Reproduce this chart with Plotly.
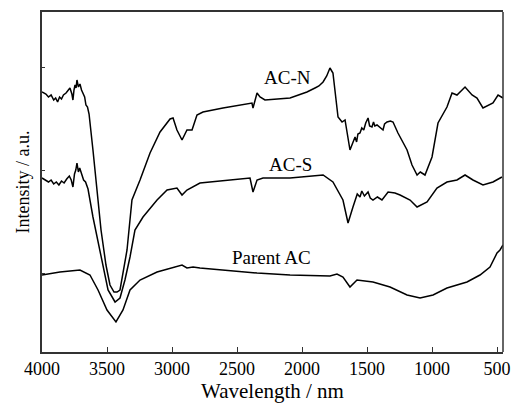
import plotly.graph_objects as go

# AC-N spectrum
acn_wn = [4000, 3970, 3950, 3930, 3910, 3895, 3880, 3865, 3850, 3835, 3815, 3800, 3785, 3770,
          3762, 3754, 3746, 3738, 3731, 3720, 3708, 3696, 3685, 3672, 3662, 3650, 3638, 3623,
          3608, 3577, 3546, 3508, 3477, 3446, 3423, 3400, 3346, 3308, 3246, 3169, 3092, 3015,
          2992, 2962, 2923, 2885, 2846, 2808, 2762, 2608, 2385, 2377, 2346, 2323, 2285, 2092,
          1962, 1900, 1870, 1838, 1810, 1785, 1762, 1723, 1692, 1669, 1631, 1592, 1580, 1570,
          1554, 1540, 1525, 1510, 1492, 1480, 1462, 1450, 1440, 1423, 1400, 1377, 1365, 1346,
          1320, 1300, 1262, 1192, 1154, 1130, 1115, 1090, 1054, 1000, 954, 885, 846, 808, 746,
          692, 654, 608, 531, 492, 454]
acn_int = [260, 258, 255, 257, 252, 254, 250, 255, 253, 257, 259, 262, 264, 258,
           252, 262, 267, 264, 272, 265, 268, 262, 258, 255, 247, 245, 238, 222,
           202, 162, 122, 87, 67, 60, 60, 62, 102, 152, 172, 199, 220, 233,
           234, 222, 212, 222, 222, 237, 240, 244, 249, 244, 259, 255, 252, 254,
           260, 264, 266, 270, 276, 284, 279, 235, 230, 232, 202, 215, 210, 218,
           219, 224, 222, 229, 234, 226, 225, 230, 226, 227, 224, 222, 228, 230,
           231, 230, 219, 202, 187, 180, 177, 180, 177, 195, 229, 245, 259, 257, 265,
           257, 254, 244, 249, 257, 254]

# AC-S spectrum
acs_wn = [4000, 3970, 3950, 3930, 3910, 3890, 3870, 3850, 3830, 3810, 3790, 3775, 3762, 3750,
          3740, 3731, 3720, 3710, 3692, 3680, 3665, 3646, 3608, 3554, 3492, 3438, 3400, 3362,
          3323, 3285, 3223, 3115, 3038, 2962, 2923, 2885, 2838, 2785, 2708, 2400, 2377, 2346,
          2300, 2092, 1838, 1762, 1685, 1646, 1608, 1590, 1575, 1554, 1540, 1520, 1492, 1475,
          1454, 1420, 1385, 1338, 1285, 1246, 1169, 1115, 1038, 962, 885, 808, 746, 685, 608,
          531, 462]
acs_int = [174, 172, 170, 172, 168, 170, 167, 171, 169, 173, 176, 172, 165, 178,
           182, 189, 180, 184, 177, 172, 170, 163, 135, 102, 62, 50, 54, 72,
           95, 122, 135, 152, 162, 164, 157, 162, 165, 169, 170, 174, 160, 172,
           174, 174, 177, 170, 152, 129, 145, 152, 158, 155, 161, 156, 160, 154,
           152, 155, 152, 160, 159, 157, 152, 145, 150, 164, 170, 172, 177, 172, 167,
           170, 175]

# Parent AC spectrum
par_wn = [4000, 3862, 3708, 3631, 3569, 3500, 3431, 3377, 3323, 3246, 3115, 2992, 2923, 2885,
          2838, 2785, 2608, 2346, 2092, 1785, 1731, 1685, 1631, 1577, 1454, 1323, 1192, 1092,
          992, 885, 731, 631, 554, 500, 477, 454]
par_int = [77, 80, 82, 77, 62, 42, 30, 42, 62, 72, 80, 84, 87, 84,
           85, 84, 82, 79, 77, 76, 78, 75, 65, 72, 70, 65, 57, 54,
           57, 64, 70, 77, 85, 99, 102, 107]

labels = ["AC-N", "AC-S", "Parent AC"]
label_wn = [2115, 2092, 2231]
label_int = [275, 188, 95]

x_ticks = [4000, 3500, 3000, 2500, 2000, 1500, 1000, 500]
y_ticks = [79, 182, 285]

FONT = "Liberation Serif, Times New Roman, serif"

fig = go.Figure()
for wn, inten in [(acn_wn, acn_int), (acs_wn, acs_int), (par_wn, par_int)]:
    fig.add_trace(go.Scatter(x=wn, y=inten, mode="lines",
                             line=dict(color="black", width=1.5), showlegend=False))

for t, xw, yi in zip(labels, label_wn, label_int):
    fig.add_annotation(x=xw, y=yi, text=t, showarrow=False,
                       font=dict(family=FONT, size=19, color="black"))

fig.update_layout(
    width=511, height=397,
    margin=dict(l=34, r=16, t=4, b=53),
    paper_bgcolor="white", plot_bgcolor="white",
    font=dict(family=FONT, size=18, color="black"),
)
fig.update_xaxes(range=[4000, 454], tickvals=x_ticks, ticks="inside", ticklen=5,
                 tickcolor="#333", showline=True, linecolor="#333", linewidth=1.5,
                 mirror=True, showgrid=False, zeroline=False, automargin=False,
                 title=dict(text="Wavelength / nm", standoff=4,
                            font=dict(family=FONT, size=21)),
                 tickfont=dict(family=FONT, size=18))
fig.update_yaxes(range=[0, 340], showticklabels=False, tickvals=y_ticks, ticks="inside",
                 ticklen=3, tickcolor="#333", showline=True,
                 linecolor="#333", linewidth=1.5, mirror=False, showgrid=False,
                 zeroline=False, automargin=False,
                 title=dict(text="Intensity / a.u.", standoff=6,
                            font=dict(family=FONT, size=18)))
fig.add_shape(type="line", xref="paper", yref="paper", x0=1, x1=1, y0=0, y1=1,
              line=dict(color="#333", width=1.5))

fig.write_html("out.html")
